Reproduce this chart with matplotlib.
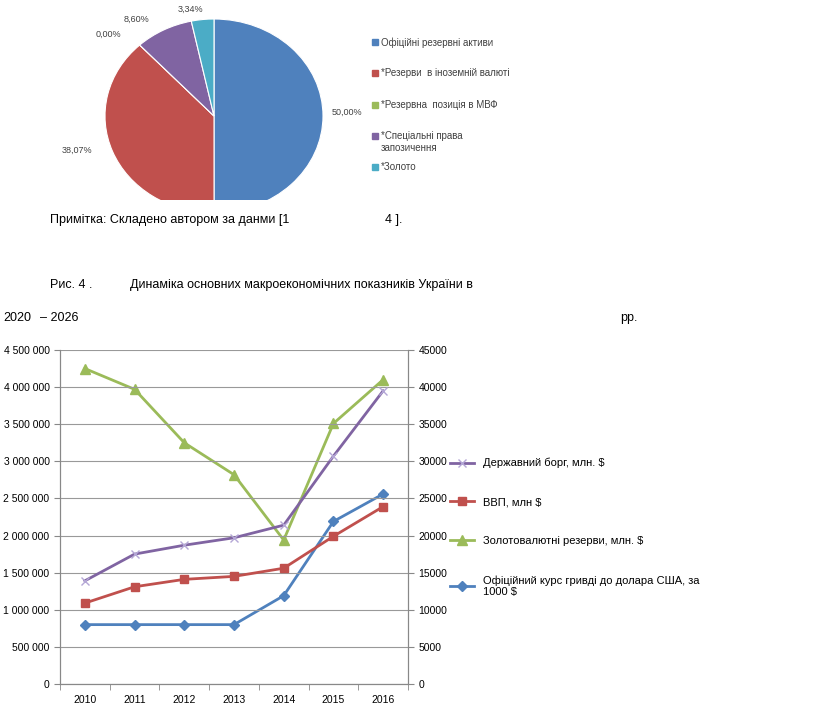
import matplotlib.pyplot as plt
from matplotlib.ticker import FuncFormatter, MultipleLocator

W, H = 821, 715

# pie data
pie_labels = ["Офіційні резервні активи", "*Резерви  в іноземній валюті",
              "*Резервна  позиція в МВФ", "*Спеціальні права\nзапозичення", "*Золото"]
pie_values = [50.00, 38.07, 0.00, 8.60, 3.34]
pie_colors = ["#4f81bd", "#c0504d", "#9bbb59", "#8064a2", "#4bacc6"]

# line chart data
years = ["2010", "2011", "2012", "2013", "2014", "2015", "2016"]
debt = [1390000, 1750000, 1870000, 1970000, 2140000, 3070000, 3950000]
gdp = [1090000, 1310000, 1410000, 1450000, 1560000, 1990000, 2390000]
reserves = [42500, 39700, 32500, 28200, 19400, 35100, 41000]
rate = [8000, 8000, 8000, 8000, 11900, 21900, 25600]

plt.rcParams["font.family"] = ["Liberation Sans", "DejaVu Sans"]
fig = plt.figure(figsize=(W / 100, H / 100), dpi=100)


def box(x0, y0, x1, y1):
    return [x0 / W, 1 - y1 / H, (x1 - x0) / W, (y1 - y0) / H]


# pie: slightly elliptical, centre (214,116), bottom cut at y=200
ax_p = fig.add_axes(box(105, 19, 323, 200))
wedges, _ = ax_p.pie(pie_values, colors=pie_colors, startangle=90, counterclock=False,
                     radius=1.0, wedgeprops=dict(edgecolor="white", linewidth=0.8))
for w in wedges:
    w.set_clip_on(True)
ax_p.set_aspect("auto")
ax_p.set_xlim(-1, 1)
ax_p.set_ylim(-(200 - 116) / 97, 1)
ax_p.axis("off")

pie_text = [("50,00%", 332, 112), ("38,07%", 62, 150), ("0,00%", 96, 34),
            ("8,60%", 124, 19), ("3,34%", 178, 9)]
for t, x, y in pie_text:
    fig.text(x / W, 1 - y / H, t, fontsize=6.5, color="#404040", va="center")

leg_y = [42, 73, 105, 136, 167]
for (lab, col, y) in zip(pie_labels, pie_colors, leg_y):
    fig.patches.append(plt.Rectangle((372 / W, 1 - (y + 3) / H), 6 / W, 6 / H,
                                     transform=fig.transFigure, color=col))
    fig.text(381 / W, 1 - (y - 5) / H, lab, fontsize=7, color="#404040", va="top",
             linespacing=1.3)

texts = [("Примітка: Складено автором за данми [1", 50, 220), ("4 ].", 385, 220),
         ("Рис. 4 .", 50, 285), ("Динаміка основних макроекономічних показників України в", 130, 285),
         ("2020", 3, 318), ("– 2026", 40, 318), ("рр.", 620, 318)]
for t, x, y in texts:
    fig.text(x / W, 1 - y / H, t, fontsize=9, va="center")

# line chart
ax = fig.add_axes(box(60, 350, 408, 684))
ax2 = ax.twinx()
xs = range(len(years))
l1, = ax.plot(xs, debt, color="#8064a2", marker="x", ms=6, mec="#b4a7d6", lw=2)
l2, = ax.plot(xs, gdp, color="#c0504d", marker="s", ms=6, lw=2)
l3, = ax2.plot(xs, reserves, color="#9bbb59", marker="^", ms=7, lw=2)
l4, = ax2.plot(xs, rate, color="#4f81bd", marker="D", ms=5, lw=2)
ax.set_zorder(ax2.get_zorder() + 1)
ax.patch.set_visible(False)

ax.set_xlim(-0.5, 6.5)
ax.set_ylim(0, 4500000)
ax2.set_ylim(0, 45000)
ax.yaxis.set_major_locator(MultipleLocator(500000))
ax2.yaxis.set_major_locator(MultipleLocator(5000))
ax.yaxis.set_major_formatter(FuncFormatter(lambda v, p: f"{int(v):,}".replace(",", " ")))
ax.set_xticks(list(xs))
ax.set_xticklabels(years)
ax.set_xticks([i - 0.5 for i in range(8)], minor=True)
ax.tick_params(axis="x", which="major", length=0, labelsize=7.5, pad=8)
ax.tick_params(axis="x", which="minor", length=4, color="#888888")
ax.tick_params(axis="y", labelsize=7.5, length=4, color="#888888")
ax2.tick_params(axis="y", labelsize=7.5, length=4, color="#888888")
ax.grid(axis="y", color="#999999", lw=0.8)
for a in (ax, ax2):
    a.spines["top"].set_visible(False)
    for s in ("left", "right", "bottom"):
        a.spines[s].set_color("#888888")

ax.legend([l1, l2, l3, l4],
          ["Державний борг, млн. $", "ВВП, млн $", "Золотовалютні резерви, млн. $",
           "Офіційний курс гривді до долара США, за\n1000 $"],
          loc="upper left", bbox_to_anchor=(440 / W, 1 - 448 / H),
          bbox_transform=fig.transFigure, frameon=False, fontsize=8,
          labelspacing=2.6, handlelength=2.2)

fig.savefig("out.png", dpi=100)
